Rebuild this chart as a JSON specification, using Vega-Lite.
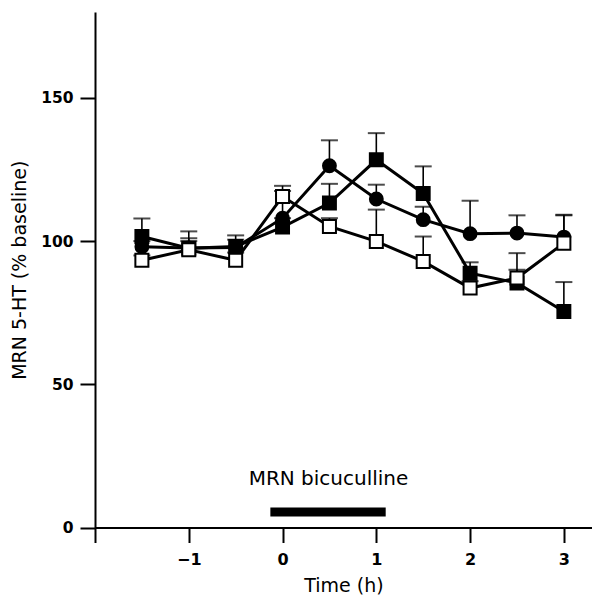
{
  "$schema": "https://vega.github.io/schema/vega-lite/v6.json",
  "autosize": "none",
  "padding": {"left": 95, "top": 12, "right": 0, "bottom": 73},
  "width": 497,
  "height": 515.5,
  "background": "white",
  "config": {
    "view": {"stroke": null},
    "font": "DejaVu Sans",
    "axis": {
      "domainColor": "black", "domainWidth": 2, "tickColor": "black", "tickWidth": 2,
      "tickSize": 15, "grid": false, "labelColor": "black", "titleColor": "black",
      "labelFont": "DejaVu Sans", "titleFont": "DejaVu Sans",
      "labelFontSize": 15, "labelFontWeight": "bold", "titleFontSize": 19, "titleFontWeight": "normal"
    }
  },
  "datasets": {
    "series": [
      {"group": "A", "time": -1.5, "value": 98.0, "upper": 100.0},
      {"group": "A", "time": -1.0, "value": 97.6, "upper": 101.0},
      {"group": "A", "time": -0.5, "value": 97.8, "upper": 100.5},
      {"group": "A", "time": 0.0, "value": 108.0, "upper": 117.5},
      {"group": "A", "time": 0.5, "value": 126.3, "upper": 135.2},
      {"group": "A", "time": 1.0, "value": 114.7, "upper": 119.7},
      {"group": "A", "time": 1.5, "value": 107.5, "upper": 112.0},
      {"group": "A", "time": 2.0, "value": 102.6, "upper": 114.1},
      {"group": "A", "time": 2.5, "value": 102.8, "upper": 109.0},
      {"group": "A", "time": 3.0, "value": 101.4, "upper": 109.2},
      {"group": "B", "time": -1.5, "value": 101.6, "upper": 107.9},
      {"group": "B", "time": -1.0, "value": 97.5, "upper": 103.4},
      {"group": "B", "time": -0.5, "value": 98.1, "upper": 102.0},
      {"group": "B", "time": 0.0, "value": 104.9, "upper": 108.0},
      {"group": "B", "time": 0.5, "value": 113.3, "upper": 120.0},
      {"group": "B", "time": 1.0, "value": 128.4, "upper": 137.7},
      {"group": "B", "time": 1.5, "value": 116.6, "upper": 126.1},
      {"group": "B", "time": 2.0, "value": 88.8, "upper": 92.6},
      {"group": "B", "time": 2.5, "value": 85.4, "upper": 95.8},
      {"group": "B", "time": 3.0, "value": 75.4, "upper": 85.7},
      {"group": "C", "time": -1.5, "value": 93.3, "upper": 95.0},
      {"group": "C", "time": -1.0, "value": 97.0, "upper": 100.0},
      {"group": "C", "time": -0.5, "value": 93.3, "upper": 96.0},
      {"group": "C", "time": 0.0, "value": 115.6, "upper": 119.3},
      {"group": "C", "time": 0.5, "value": 105.1, "upper": 108.0},
      {"group": "C", "time": 1.0, "value": 99.9, "upper": 111.0},
      {"group": "C", "time": 1.5, "value": 92.9, "upper": 101.6},
      {"group": "C", "time": 2.0, "value": 83.6, "upper": 86.0},
      {"group": "C", "time": 2.5, "value": 87.1, "upper": 90.0},
      {"group": "C", "time": 3.0, "value": 99.3, "upper": 109.0}
    ],
    "drug": [
      {"label": "MRN bicuculline", "start": -0.13, "end": 1.1, "low": 3.8, "high": 7.0}
    ]
  },
  "layer": [
    {
      "mark": {"type": "rule", "color": "black", "strokeWidth": 1.6, "strokeDash": [6, 4]},
      "encoding": {
        "y": {"datum": 100, "type": "quantitative"}
      }
    },
    {
      "data": {"name": "drug"},
      "mark": {"type": "rect", "color": "black"},
      "encoding": {
        "x": {"field": "start", "type": "quantitative"},
        "x2": {"field": "end"},
        "y": {"field": "low", "type": "quantitative"},
        "y2": {"field": "high"}
      }
    },
    {
      "data": {"name": "drug"},
      "mark": {"type": "text", "fontSize": 20, "color": "black", "font": "DejaVu Sans", "baseline": "alphabetic", "align": "center"},
      "encoding": {
        "x": {"datum": 0.49, "type": "quantitative"},
        "y": {"datum": 15, "type": "quantitative"},
        "text": {"field": "label"}
      }
    },
    {
      "data": {"name": "series"},
      "mark": {"type": "rule", "color": "black", "strokeWidth": 1.6},
      "encoding": {
        "x": {"field": "time", "type": "quantitative"},
        "y": {"field": "value", "type": "quantitative"},
        "y2": {"field": "upper"}
      }
    },
    {
      "data": {"name": "series"},
      "mark": {"type": "tick", "orient": "horizontal", "color": "black", "size": 17, "thickness": 2},
      "encoding": {
        "x": {"field": "time", "type": "quantitative"},
        "y": {"field": "upper", "type": "quantitative"}
      }
    },
    {
      "data": {"name": "series"},
      "mark": {"type": "line", "color": "black", "strokeWidth": 3},
      "encoding": {
        "x": {"field": "time", "type": "quantitative"},
        "y": {"field": "value", "type": "quantitative"},
        "detail": {"field": "group"}
      }
    },
    {
      "data": {"name": "series"},
      "mark": {"type": "point", "stroke": "black", "strokeWidth": 2, "opacity": 1, "filled": false},
      "encoding": {
        "x": {
          "field": "time", "type": "quantitative",
          "scale": {"domain": [-2, 3.3], "nice": false, "zero": false},
          "axis": {
            "values": [-2, -1, 0, 1, 2, 3],
            "format": "d",
            "labelExpr": "datum.value == -2 ? '' : datum.label",
            "labelPadding": 9, "labelFontSize": 16,
            "title": "Time (h)", "titlePadding": 9
          }
        },
        "y": {
          "field": "value", "type": "quantitative",
          "scale": {"domain": [0, 180], "nice": false},
          "axis": {
            "values": [0, 50, 100, 150],
            "format": "d",
            "labelPadding": 7, "labelFontSize": 15.5,
            "title": "MRN 5-HT (% baseline)", "titlePadding": 11
          }
        },
        "shape": {
          "field": "group", "type": "nominal",
          "scale": {"domain": ["A", "B", "C"], "range": ["circle", "square", "square"]},
          "legend": null
        },
        "fill": {
          "field": "group", "type": "nominal",
          "scale": {"domain": ["A", "B", "C"], "range": ["black", "black", "white"]},
          "legend": null
        },
        "size": {
          "field": "group", "type": "nominal",
          "scale": {"domain": ["A", "B", "C"], "range": [165, 170, 150]},
          "legend": null
        },
        "fillOpacity": {"value": 1}
      }
    }
  ]
}
